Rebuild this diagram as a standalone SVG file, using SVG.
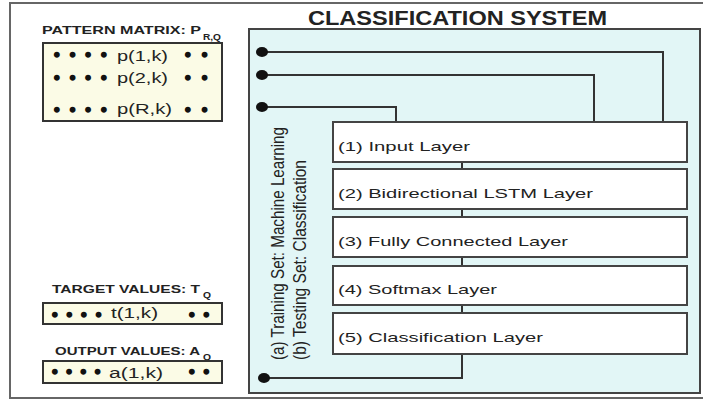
<svg xmlns="http://www.w3.org/2000/svg" width="703" height="400" viewBox="0 0 703 400">
<style>
.t{font-family:"Liberation Sans",Arial,sans-serif;fill:#222}
.b{font-weight:bold}
.dots{font-family:"Liberation Sans",Arial,sans-serif;fill:#111;stroke:#111;stroke-width:1.6;font-size:16px;word-spacing:5.6px}
.d2{word-spacing:6.8px}
.cream{fill:#fbfbe6;stroke:#333;stroke-width:2}
.layer{fill:#ffffff;stroke:#444;stroke-width:2}
.wire{fill:none;stroke:#333;stroke-width:2}
.dot{fill:#111}
</style>
<rect width="703" height="400" fill="#ffffff"/>
<rect x="10" y="3" width="710" height="395" fill="none" stroke="#666" stroke-width="2"/>

<g id="pattern-matrix">
<text class="t b" x="42" y="33.5" font-size="11" textLength="159" lengthAdjust="spacingAndGlyphs">PATTERN MATRIX: P</text>
<text class="t b" x="203" y="39.5" font-size="8.5" textLength="18" lengthAdjust="spacingAndGlyphs">R,Q</text>
<rect class="cream" x="43" y="43" width="179" height="78"/>
<text class="dots" x="54" y="59.5">• • • •</text>
<text class="t" x="117" y="61" font-size="15" textLength="51" lengthAdjust="spacingAndGlyphs">p(1,k)</text>
<text class="dots d2" x="185" y="59.5">• •</text>
<text class="dots" x="54" y="82.5">• • • •</text>
<text class="t" x="117" y="82.5" font-size="15" textLength="51" lengthAdjust="spacingAndGlyphs">p(2,k)</text>
<text class="dots d2" x="185" y="82.5">• •</text>
<text class="dots" x="54" y="114.5">• • • •</text>
<text class="t" x="117" y="114" font-size="15" textLength="55" lengthAdjust="spacingAndGlyphs">p(R,k)</text>
<text class="dots d2" x="185" y="114.5">• •</text>
</g>

<g id="target-values">
<text class="t b" x="52" y="293" font-size="11" textLength="148" lengthAdjust="spacingAndGlyphs">TARGET VALUES: T</text>
<text class="t b" x="203" y="298" font-size="8.5" textLength="8" lengthAdjust="spacingAndGlyphs">Q</text>
<rect class="cream" x="43" y="303" width="179" height="21"/>
<text class="dots" x="52" y="320" style="word-spacing:4.5px">• • • •</text>
<text class="t" x="111" y="317.5" font-size="14" textLength="47" lengthAdjust="spacingAndGlyphs">t(1,k)</text>
<text class="dots" x="189" y="320" style="word-spacing:4.5px">• •</text>
</g>

<g id="output-values">
<text class="t b" x="55" y="355" font-size="11" textLength="145" lengthAdjust="spacingAndGlyphs">OUTPUT VALUES: A</text>
<text class="t b" x="203" y="360" font-size="8.5" textLength="8" lengthAdjust="spacingAndGlyphs">Q</text>
<rect class="cream" x="43" y="361" width="179" height="22"/>
<text class="dots" x="52" y="377" style="word-spacing:4.2px">• • • •</text>
<text class="t" x="109" y="377.5" font-size="14" textLength="54" lengthAdjust="spacingAndGlyphs">a(1,k)</text>
<text class="dots" x="189" y="377" style="word-spacing:4.5px">• •</text>
</g>

<g id="classification-system">
<text class="t b" x="308" y="25" font-size="19.5" textLength="299" lengthAdjust="spacingAndGlyphs">CLASSIFICATION SYSTEM</text>
<rect x="249" y="29" width="451" height="364" fill="#e2f6f6" stroke="#444" stroke-width="2"/>
<text class="t" transform="translate(283.5,360) rotate(-90)" font-size="17.5" textLength="233" lengthAdjust="spacingAndGlyphs">(a) Training Set: Machine Learning</text>
<text class="t" transform="translate(305.5,360) rotate(-90)" font-size="17.5" textLength="200" lengthAdjust="spacingAndGlyphs">(b) Testing Set: Classification</text>
</g>

<g id="connectors">
<path class="wire" d="M262,52 H663 V122"/>
<path class="wire" d="M262,75 H594 V122"/>
<path class="wire" d="M262,107 H396 V122"/>
<path class="wire" d="M462,162 V169 M462,209 V217 M462,257 V266 M462,305 V313"/>
<path class="wire" d="M462,354 V378 H264"/>
<ellipse class="dot" cx="262" cy="52" rx="6" ry="5"/>
<ellipse class="dot" cx="262" cy="75" rx="6" ry="5"/>
<ellipse class="dot" cx="262" cy="107" rx="6" ry="5"/>
<ellipse class="dot" cx="264" cy="378" rx="6" ry="5"/>
</g>

<g id="layer1">
<rect class="layer" x="333" y="122" width="354" height="40"/>
<text class="t" x="338" y="151" font-size="13.5" textLength="132" lengthAdjust="spacingAndGlyphs">(1) Input Layer</text>
</g>
<g id="layer2">
<rect class="layer" x="333" y="169" width="354" height="40"/>
<text class="t" x="338" y="198" font-size="13.5" textLength="255" lengthAdjust="spacingAndGlyphs">(2) Bidirectional LSTM Layer</text>
</g>
<g id="layer3">
<rect class="layer" x="333" y="217" width="354" height="40"/>
<text class="t" x="338" y="246" font-size="13.5" textLength="230" lengthAdjust="spacingAndGlyphs">(3) Fully Connected Layer</text>
</g>
<g id="layer4">
<rect class="layer" x="333" y="266" width="354" height="39"/>
<text class="t" x="338" y="294" font-size="13.5" textLength="159" lengthAdjust="spacingAndGlyphs">(4) Softmax Layer</text>
</g>
<g id="layer5">
<rect class="layer" x="333" y="313" width="354" height="41"/>
<text class="t" x="338" y="342" font-size="13.5" textLength="205" lengthAdjust="spacingAndGlyphs">(5) Classification Layer</text>
</g>
</svg>
